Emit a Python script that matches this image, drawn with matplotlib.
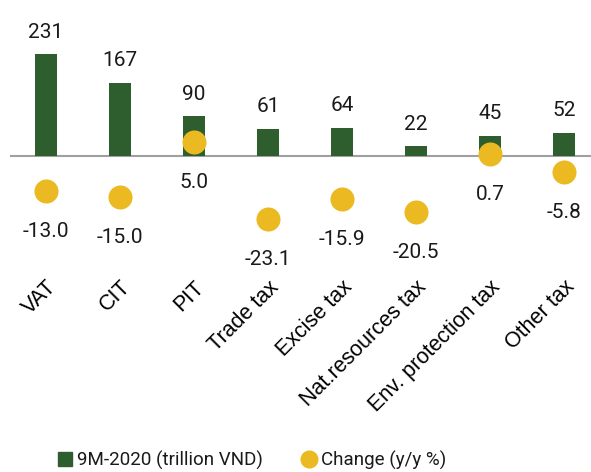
import matplotlib.pyplot as plt
from matplotlib.lines import Line2D

# Data
categories = ["VAT", "CIT", "PIT", "Trade tax", "Excise tax",
              "Nat.resources tax", "Env. protection tax", "Other tax"]
revenue = [231, 167, 90, 61, 64, 22, 45, 52]
change = [-13.0, -15.0, 5.0, -23.1, -15.9, -20.5, 0.7, -5.8]

GREEN = "#2e5e2e"
YELLOW = "#ebb922"
TEXT = "#1a1a1a"

plt.rcParams["font.family"] = ["Roboto", "DejaVu Sans"]

W, H = 591, 472
fig = plt.figure(figsize=(W / 100, H / 100), dpi=100)

# axes in pixel coords: left 10, right 591, top 0, bottom 278
ax_left, ax_right, ax_top, ax_bottom = 10, 591, 0, 278
ax = fig.add_axes([ax_left / W, 1 - ax_bottom / H,
                   (ax_right - ax_left) / W, (ax_bottom - ax_top) / H])
ax2 = ax.twinx()

x = list(range(len(categories)))
base = 156  # pixel row of zero line
bar_scale = 0.44  # px per unit
dot_scale = 2.72

ax.set_xlim((ax_left - 46) / 74, (ax_right - 46) / 74)
ax.set_ylim(-(ax_bottom - base) / bar_scale, (base - ax_top) / bar_scale)
ax2.set_ylim(-(ax_bottom - base) / dot_scale, (base - ax_top) / dot_scale)

ax.bar(x, revenue, width=0.31, color=GREEN, zorder=2,
       label="9M-2020 (trillion VND)")
ax.axhline(0, color="#a0a0a0", lw=1.5, zorder=1)
for xi, v in zip(x, revenue):
    ax.annotate(f"{v}", (xi, v), xytext=(0, 16), textcoords="offset points",
                ha="center", va="center", fontsize=15, color=TEXT)

ax2.scatter(x, change, s=300, color=YELLOW, zorder=3, linewidths=0,
            label="Change (y/y %)")
for xi, v in zip(x, change):
    ax2.annotate(f"{v:.1f}", (xi, v), xytext=(0, -29), textcoords="offset points",
                 ha="center", va="center", fontsize=15, color=TEXT)

ax.set_xticks(x)
ax.set_xticklabels(categories, rotation=45, ha="right", rotation_mode="anchor",
                   fontsize=15.5, color="black", family="Liberation Sans")
ax.tick_params(axis="x", length=0, pad=-1)
ax.set_yticks([])
ax2.set_yticks([])
for a in (ax, ax2):
    for s in a.spines.values():
        s.set_visible(False)
    a.patch.set_visible(False)

labels = [ax.get_legend_handles_labels()[1][0], ax2.get_legend_handles_labels()[1][0]]
handles = [Line2D([], [], marker="s", ls="", color=GREEN, markersize=10),
           Line2D([], [], marker="o", ls="", color=YELLOW, markersize=12)]
fig.legend(handles, labels, loc="center", bbox_to_anchor=(251 / W, 1 - 460 / H),
           ncol=2, frameon=False, fontsize=13.5, handletextpad=0.1,
           columnspacing=2.0, handlelength=1.0, labelcolor=TEXT)

fig.savefig("out.png", dpi=100)
